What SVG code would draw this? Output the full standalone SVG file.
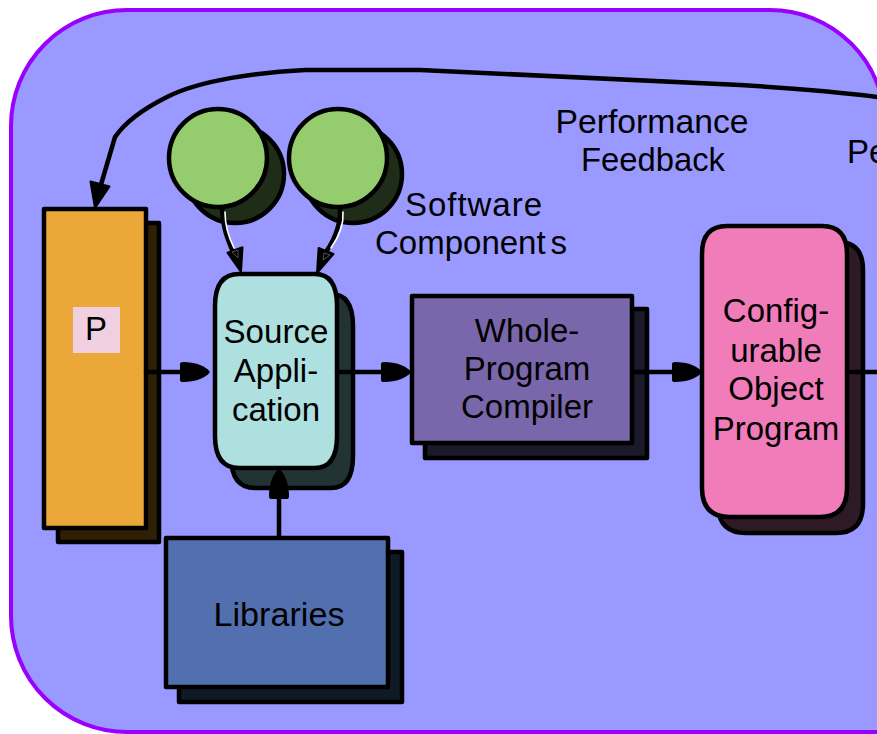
<svg xmlns="http://www.w3.org/2000/svg" width="877" height="734" viewBox="0 0 877 734">
  <style>
    .lbl { font-family: "Liberation Sans", Arial, sans-serif; font-size: 33px; fill: #000; }
    .mid { text-anchor: middle; }
    .edge { fill: none; stroke: #000; stroke-width: 4.5; stroke-linejoin: round; stroke-linecap: round; }
    .hl { fill: none; stroke: #fff; stroke-width: 1.6; stroke-linecap: round; }
    .box { stroke: #000; stroke-width: 4.5; stroke-linejoin: round; }
    .head { fill: #000; stroke: #000; stroke-width: 2; stroke-linejoin: round; }
  </style>
  <defs>
    <!-- rounded bullet arrowhead, tip at origin pointing along +x -->
    <path id="bullet" d="M-30,-8 Q-30,-10 -27,-10 C-15,-10 -4,-6 0,0 C-4,6 -15,10 -27,10 Q-30,10 -30,8 Z"/>
    <!-- rounded-corner outlines for the tall nodes -->
    <path id="srcShape" d="M239,274 H315 Q337,274 337,306 V436 Q337,468 315,468 H239 Q215,468 215,436 V306 Q215,274 239,274 Z"/>
    <path id="cfgShape" d="M727,226 H822 Q847,226 847,254 V488 Q847,517 820,517 H730 Q702,517 702,488 V254 Q702,226 727,226 Z"/>
  </defs>

  <!-- backdrop panel (continues past the right edge) -->
  <path d="M11,126 A116,116 0 0 1 127,10 H770 A115,115 0 0 1 885,125 V732 H127 A116,116 0 0 1 11,616 Z" fill="#9999ff" stroke="#9900ff" stroke-width="4"/>

  <!-- P column -->
  <g id="node-p">
    <rect class="box" x="58" y="223" width="101" height="319" fill="#2e1f05"/>
    <rect class="box" x="44" y="209" width="102" height="319" fill="#eba838"/>
    <rect x="73" y="307" width="47" height="46" fill="#f0d0e0"/>
    <text class="lbl mid" x="96" y="340">P</text>
  </g>

  <!-- software components -->
  <g id="node-comp1">
    <circle class="box" cx="235" cy="174" r="49" fill="#1e2c18"/>
    <circle class="box" cx="218" cy="158" r="49" fill="#94cc6e"/>
  </g>
  <g id="node-comp2">
    <circle class="box" cx="353" cy="174" r="49" fill="#1e2c18"/>
    <circle class="box" cx="338" cy="158" r="49" fill="#94cc6e"/>
  </g>

  <!-- Source Application -->
  <g id="node-source">
    <use href="#srcShape" class="box" fill="#223333" transform="translate(16,20)"/>
    <use href="#srcShape" class="box" fill="#aee0e0"/>
    <text class="lbl mid" x="276" y="343" textLength="105" lengthAdjust="spacingAndGlyphs">Source</text>
    <text class="lbl mid" x="276" y="382">Appli-</text>
    <text class="lbl mid" x="276" y="421">cation</text>
  </g>

  <!-- Whole-Program Compiler -->
  <g id="node-compiler">
    <rect class="box" x="425" y="309" width="222" height="149" fill="#1a1a2a"/>
    <rect class="box" x="412" y="296" width="220" height="147" fill="#7a66aa"/>
    <text class="lbl mid" x="527" y="342">Whole-</text>
    <text class="lbl mid" x="527" y="380">Program</text>
    <text class="lbl mid" x="527" y="418">Compiler</text>
  </g>

  <!-- Configurable Object Program -->
  <g id="node-config">
    <use href="#cfgShape" class="box" fill="#2e1a24" transform="translate(16,16)"/>
    <use href="#cfgShape" class="box" fill="#f07cba"/>
    <text class="lbl mid" x="776" y="322">Config-</text>
    <text class="lbl mid" x="776" y="362">urable</text>
    <text class="lbl mid" x="776" y="400">Object</text>
    <text class="lbl mid" x="776" y="440">Program</text>
  </g>

  <!-- Libraries -->
  <g id="node-libraries">
    <rect class="box" x="179" y="552" width="223" height="150" fill="#101a26"/>
    <rect class="box" x="166" y="538" width="222" height="149" fill="#5270b0"/>
    <text class="lbl mid" x="279" y="626" textLength="131" lengthAdjust="spacingAndGlyphs">Libraries</text>
  </g>

  <!-- free labels -->
  <g id="labels">
    <text class="lbl mid" x="652" y="133" textLength="193" lengthAdjust="spacingAndGlyphs">Performance</text>
    <text class="lbl mid" x="653" y="171" textLength="144" lengthAdjust="spacingAndGlyphs">Feedback</text>
    <text class="lbl" x="405" y="216" textLength="137" lengthAdjust="spacing">Software</text>
    <text class="lbl" x="375" y="254">Component<tspan dx="5">s</tspan></text>
    <text class="lbl" x="847" y="163">Pe</text>
  </g>

  <!-- connectors -->
  <g id="connectors">
    <!-- performance feedback loop back to P -->
    <path class="edge" d="M885,98 C850,93 820,90 740,85 L420,70 L305,70 C260,72 200,80 167,97 C145,108 126,121 115,137 L100,188"/>
    <polygon class="head" points="90.5,181.5 109.5,186.5 95,208"/>

    <!-- component 1 -> source -->
    <path class="edge" d="M222,208 C222,225 227,238 233,252"/>
    <path class="hl" d="M225,212 C225,226 229,238 234,248"/>
    <polygon class="head" points="227.5,252.7 242.5,247.3 241,272"/>
    <polygon points="232,252 238,250 238,258" fill="none" stroke="#666" stroke-width="0.8"/>

    <!-- component 2 -> source -->
    <path class="edge" d="M340,208 C341,225 334,240 326,252"/>
    <path class="hl" d="M343,212 C344,226 338,238 331,248"/>
    <polygon class="head" points="318.6,248 333.4,254 317,273"/>
    <polygon points="324,253 330,255 323,260" fill="none" stroke="#666" stroke-width="0.8"/>

    <!-- P -> source -->
    <path class="edge" d="M146,372 H185"/>
    <use href="#bullet" transform="translate(210,372)"/>

    <!-- source -> compiler -->
    <path class="edge" d="M337,372 H385"/>
    <use href="#bullet" transform="translate(411,372)"/>

    <!-- compiler -> configurable object program -->
    <path class="edge" d="M632,372 H675"/>
    <use href="#bullet" transform="translate(702,372)"/>

    <!-- configurable object program -> onward -->
    <path class="edge" d="M847,372 H880"/>

    <!-- libraries -> source -->
    <path class="edge" d="M279,538 V495"/>
    <use href="#bullet" transform="translate(279,469) rotate(-90)"/>
  </g>
</svg>
